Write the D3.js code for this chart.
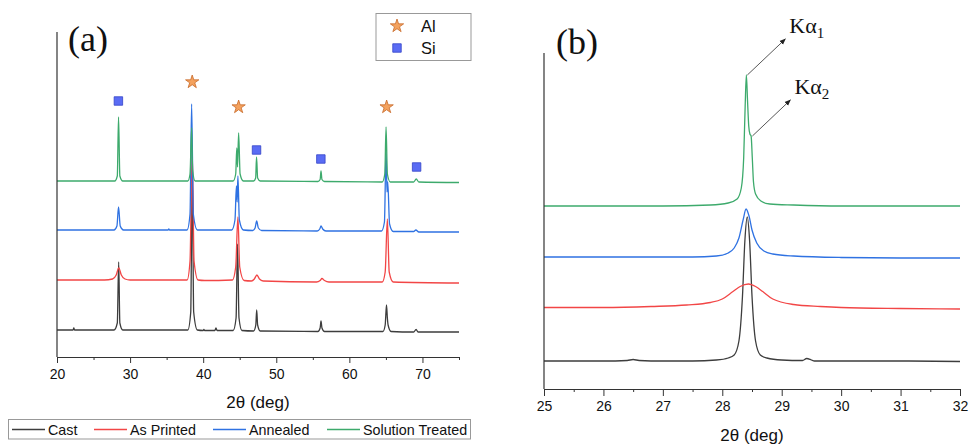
<!DOCTYPE html>
<html lang="en">
<head>
<meta charset="utf-8">
<title>XRD patterns</title>
<script src="https://d3js.org/d3.v7.min.js"></script>
<style>
  body { margin: 0; background: #fff; }
  text { fill: #111; }
</style>
</head>
<body>
<div id="mainDiv"></div>
<script>
// ---- data: [2theta, intensity (a.u.)] ----
const seriesNames = ['Cast', 'As Printed', 'Annealed', 'Solution Treated']
const seriesColors = ['#3d3d3d', '#f24646', '#2f72e2', '#3daa6c']

// panel (a): offsets stack the traces
const offsetsA = [25, 74, 125, 175]
const castA = [[20,2],[22.2,2],[22.3,4],[22.4,2],[27.8,2],[28.25,9],[28.44,70],[28.6,9],[29,2],
  [37.9,2],[38.3,20],[38.5,162],[38.7,20],[39.2,2],[40,1.5],[40.1,2.5],[40.2,1.5],[41.6,1.5],[41.75,4],[41.9,1.5],
  [44.1,1.5],[44.5,14],[44.7,88],[44.9,14],[45.3,1.5],[46.9,1],[47.2,7],[47.32,22],[47.45,7],[47.8,1],
  [55.7,0.5],[56,4],[56.12,11],[56.25,4],[56.6,0.5],[64.6,0.5],[64.9,7],[65.08,27],[65.2,14],[65.3,7],[65.7,0.5],
  [68.8,0],[69.13,2.5],[69.4,0],[75,0]]
const printedA = [[20,3],[26.5,3],[27.6,4],[28.1,8],[28.45,15],[28.8,8],[29.3,4],[30,3],
  [37.8,3],[38.2,22],[38.5,133],[38.75,22],[39.3,3],[40.2,2.5],[44,3],[44.45,16],[44.75,66],[45,16],[45.6,2.5],
  [46.6,2],[47,4],[47.35,8],[47.7,4],[48.2,2],[55.5,1],[56,2.5],[56.25,4.5],[56.6,2.5],[57.2,1],
  [64.5,1],[64.9,11],[65.2,64],[65.45,11],[66,1],[75,0]]
const annealedA = [[20,2],[27.8,2],[28.2,6],[28.42,25],[28.65,6],[29.1,2],[35.2,2],[35.3,3],[35.4,2],
  [37.8,2],[38.2,18],[38.42,128],[38.65,18],[39.2,2],[43.9,2],[44.35,12],[44.55,46],[44.65,30],[44.75,56],[44.95,12],[45.5,2],
  [46.8,1.5],[47.1,4],[47.32,11],[47.55,4],[48,1.5],[55.6,1],[55.95,3],[56.12,6],[56.35,3],[56.8,1],
  [64.4,1],[64.8,10],[65.02,82],[65.15,40],[65.25,50],[65.5,8],[66,0.5],[68.8,0.5],[69.1,2],[69.5,0],[75,0]]
const solutionA = [[20,1],[27.9,1],[28.25,6],[28.42,65],[28.6,6],[29,1],[37.9,1],[38.2,8],[38.42,54],[38.55,12],[38.9,1],
  [44.1,1],[44.45,8],[44.6,34],[44.7,15],[44.85,49],[45.05,8],[45.5,1],[46.9,1],[47.18,4],[47.3,25],[47.45,4],[47.8,1],
  [55.7,0.5],[56,2.5],[56.12,11],[56.25,2.5],[56.6,0.5],[64.5,0],[64.85,8],[65.02,55],[65.2,8],[65.6,0],
  [68.8,0],[69.15,3],[69.5,0],[75,-0.5]]
const alMarkers = [[38.5,275],[44.85,250],[65.1,250]]
const siMarkers = [[28.4,256],[47.3,207],[56.1,198],[69.2,190]]
const ticksA = [20, 30, 40, 50, 60, 70]
const minorTicksA = [25, 35, 45, 55, 65, 75]

// panel (b)
const offsetsB = [28, 80, 131, 183]
const castB = [[25,0],[26,0],[26.4,0.5],[26.5,1.5],[26.6,0.5],[27,0],[27.5,0],[27.9,1],[28.1,3],[28.2,6],
  [28.28,20],[28.34,65],[28.38,120],[28.42,144],[28.46,120],[28.5,65],[28.56,20],[28.64,6],[28.75,3],[29,1],
  [29.35,0.5],[29.42,2.5],[29.5,1],[29.55,0],[30,0],[31,0],[32,-0.5]]
const printedB = [[25,1.5],[26,1.5],[26.8,2.5],[27.4,4],[27.8,6.5],[28,10],[28.18,17.5],[28.3,22.5],[28.44,25],
  [28.56,22.5],[28.68,17.5],[28.85,10],[29.2,4.5],[29.65,2.5],[30,1.5],[31,0.5],[32,0]]
const annealedB = [[25,1],[26,1],[27,1],[27.5,1],[27.9,2],[28.1,5],[28.2,10],[28.28,20],[28.35,38],
  [28.4,49],[28.45,42],[28.5,28],[28.58,15],[28.7,7],[28.85,4],[29.2,2],[30,0.5],[31,0],[32,0]]
const solutionB = [[25,0],[26,0],[27,0],[27.8,1],[28.1,3],[28.25,7],[28.32,18],[28.36,48],[28.385,100],[28.405,131],
  [28.425,105],[28.445,80],[28.465,72],[28.485,70],[28.505,48],[28.525,24],[28.56,12],[28.65,5],[28.8,2],[29.2,1],[30,0],[31,0],[32,0]]
const ticksB = [25, 26, 27, 28, 29, 30, 31, 32]
const minorTicksB = [25.5, 26.5, 27.5, 28.5, 29.5, 30.5, 31.5]
const peakLabels = [{ name: 'K', sub: '1', at: [28.405, 131] }, { name: 'K', sub: '2', at: [28.49, 70] }]

const width = 970
const height = 446
const fontSans = 'Liberation Sans, Arial, sans-serif'
const fontSerif = 'Liberation Serif, Times New Roman, serif'

const svg = d3.select('#mainDiv').append('svg')
  .attr('width', width)
  .attr('height', height)

svg.append('defs').append('marker')
  .attr('id', 'arrow')
  .attr('viewBox', '0 0 10 10')
  .attr('refX', 9).attr('refY', 5)
  .attr('markerWidth', 7).attr('markerHeight', 7)
  .attr('orient', 'auto')
  .append('path').attr('d', 'M0,1 L10,5 L0,9 Z').attr('fill', '#222')

function drawPanel(opts) {
  const x = d3.scaleLinear().domain(opts.xDomain).range([opts.left, opts.right])
  const y = d3.scaleLinear().domain([0, opts.bottom - opts.top]).range([opts.bottom, opts.top])
  const g = svg.append('g')

  const line = d3.line()
    .x(d => x(d[0]))
    .curve(d3.curveMonotoneX)

  opts.series.forEach((s, i) => {
    g.append('path')
      .datum(s)
      .attr('fill', 'none')
      .attr('stroke', seriesColors[i])
      .attr('stroke-width', 1.3)
      .attr('d', line.y(d => y(d[1] + opts.offsets[i])))
  })

  // axes
  g.append('line')
    .attr('x1', opts.left).attr('x2', opts.left)
    .attr('y1', opts.top).attr('y2', opts.bottom)
    .attr('stroke', '#333').attr('stroke-width', 1.2)

  const major = g.append('g')
    .attr('transform', `translate(0,${opts.bottom})`)
    .call(d3.axisBottom(x).tickValues(opts.ticks).tickFormat(d3.format('d'))
      .tickSize(opts.tickLen).tickSizeOuter(0).tickPadding(opts.tickPad))
  major.select('.domain').attr('stroke', '#333').attr('stroke-width', 1.2)
  major.selectAll('.tick line').attr('stroke', '#333')
  major.selectAll('.tick text')
    .attr('font-family', fontSans).attr('font-size', 14).attr('fill', '#111')

  const minor = g.append('g')
    .attr('transform', `translate(0,${opts.bottom})`)
    .call(d3.axisBottom(x).tickValues(opts.minorTicks).tickSize(3).tickFormat(''))
  minor.select('.domain').remove()
  minor.selectAll('.tick line').attr('stroke', '#333')

  g.append('text')
    .attr('x', (opts.left + opts.right) / 2)
    .attr('y', opts.titleY)
    .attr('text-anchor', 'middle')
    .attr('font-family', fontSans).attr('font-size', 17)
    .text('2θ (deg)')

  g.append('text')
    .attr('x', opts.labelX).attr('y', opts.labelY)
    .attr('font-family', fontSerif).attr('font-size', 36)
    .text(opts.label)

  return { x, y, g }
}

// ---- panel (a) ----
const a = drawPanel({
  xDomain: [20, 75], left: 57, right: 459, top: 32, bottom: 357,
  series: [castA, printedA, annealedA, solutionA], offsets: offsetsA,
  ticks: ticksA, minorTicks: minorTicksA, tickLen: 6, tickPad: 6,
  titleY: 408, label: '(a)', labelX: 68, labelY: 51
})

const star = d3.symbol().type(d3.symbolStar).size(55)
const square = d3.symbol().type(d3.symbolSquare).size(72)

a.g.selectAll('.al').data(alMarkers).enter().append('path')
  .attr('d', star)
  .attr('transform', d => `translate(${a.x(d[0])},${a.y(d[1])})`)
  .attr('fill', '#f4a25e').attr('stroke', '#c86a2a').attr('stroke-width', 0.8)

a.g.selectAll('.si').data(siMarkers).enter().append('path')
  .attr('d', square)
  .attr('transform', d => `translate(${a.x(d[0])},${a.y(d[1])})`)
  .attr('fill', '#5a6cf4').attr('stroke', '#3344c8').attr('stroke-width', 0.8)

// marker legend
const mk = svg.append('g')
mk.append('rect').attr('x', 376).attr('y', 13.5).attr('width', 95).attr('height', 47)
  .attr('fill', '#fff').attr('stroke', '#999')
mk.append('path').attr('d', star).attr('transform', 'translate(397,26)')
  .attr('fill', '#f4a25e').attr('stroke', '#c86a2a').attr('stroke-width', 0.8)
mk.append('path').attr('d', square).attr('transform', 'translate(397,48)')
  .attr('fill', '#5a6cf4').attr('stroke', '#3344c8').attr('stroke-width', 0.8)
mk.append('text').attr('x', 421).attr('y', 32).attr('font-family', fontSans).attr('font-size', 16.5).text('Al')
mk.append('text').attr('x', 421).attr('y', 54).attr('font-family', fontSans).attr('font-size', 16.5).text('Si')

// series legend
const lg = svg.append('g')
lg.append('rect').attr('x', 8.5).attr('y', 419.5).attr('width', 462).attr('height', 19.5)
  .attr('fill', '#fff').attr('stroke', '#999')
const legendX = [12, 94, 213, 327]
seriesNames.forEach((name, i) => {
  lg.append('line')
    .attr('x1', legendX[i]).attr('x2', legendX[i] + 33)
    .attr('y1', 429.5).attr('y2', 429.5)
    .attr('stroke', seriesColors[i]).attr('stroke-width', 1.3)
  lg.append('text')
    .attr('x', legendX[i] + 36).attr('y', 435)
    .attr('font-family', fontSans).attr('font-size', 14.3)
    .text(name)
})

// ---- panel (b) ----
const b = drawPanel({
  xDomain: [25, 32], left: 544, right: 960, top: 53, bottom: 389,
  series: [castB, printedB, annealedB, solutionB], offsets: offsetsB,
  ticks: ticksB, minorTicks: minorTicksB, tickLen: 7, tickPad: 5,
  titleY: 441, label: '(b)', labelX: 556, labelY: 54
})

peakLabels.forEach(p => {
  const px = b.x(p.at[0]) + 1
  const py = b.y(p.at[1] + offsetsB[3])
  b.g.append('line')
    .attr('x1', px).attr('y1', py)
    .attr('x2', px + 38).attr('y2', py - 36)
    .attr('stroke', '#444').attr('stroke-width', 0.9)
    .attr('marker-end', 'url(#arrow)')
  const t = b.g.append('text')
    .attr('x', px + 42).attr('y', py - 42)
    .attr('font-family', fontSerif).attr('font-size', 22)
  t.append('tspan').text(p.name + 'α')
  t.append('tspan').attr('font-size', 15).attr('dy', 5).text(p.sub)
})
</script>
</body>
</html>
